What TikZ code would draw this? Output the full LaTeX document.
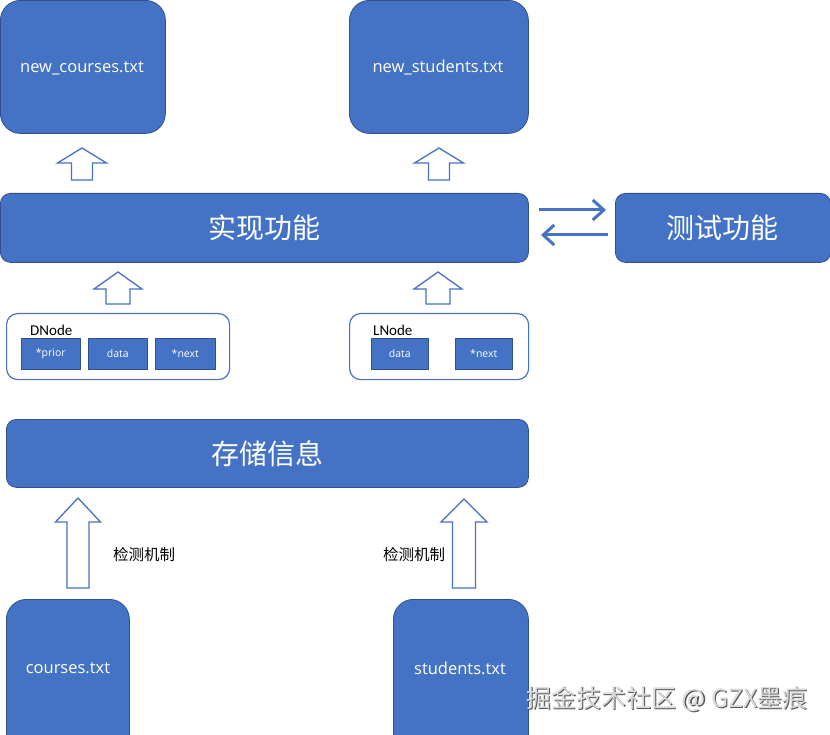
\documentclass[tikz,border=0pt]{standalone}
\usepackage{fontspec}
\setmainfont{Carlito}
\newfontfamily\cjk{Noto Sans CJK SC}
\newfontfamily\uifont{Open Sans}
\usetikzlibrary{arrows.meta}
\definecolor{boxblue}{HTML}{4472C4}
\definecolor{boxedge}{HTML}{2F528F}
\definecolor{wmgray}{HTML}{D9D9D9}
\definecolor{wmshadow}{HTML}{555555}
\newcommand\hollowarrow[6]{%
  \draw[hollow] (#1,#2) -- ({#1+#5},#3) -- ({#1+#6},#3) -- ({#1+#6},#4)
    -- ({#1-#6},#4) -- ({#1-#6},#3) -- ({#1-#5},#3) -- cycle;}
\begin{document}
\begin{tikzpicture}[x=1pt,y=-1pt,
  bluebox/.style={draw=boxedge,line width=0.8pt,fill=boxblue,text=white,
    rounded corners=#1,inner sep=0pt,anchor=north west},
  filetext/.style={font=\uifont\fontsize{16.5pt}{18pt}\selectfont},
  bigtext/.style={font=\cjk\fontsize{28pt}{32pt}\selectfont},
  container/.style={draw=boxblue,line width=1.2pt,fill=white,rounded corners=11pt,
    inner sep=0pt,anchor=north west},
  cell/.style={draw=boxedge,line width=0.6pt,fill=boxblue,text=white,inner sep=0pt,
    anchor=north west,minimum height=31pt,font=\uifont\fontsize{10.5pt}{13pt}\selectfont},
  nodelabel/.style={anchor=west,inner sep=0pt,font=\fontsize{15pt}{17pt}\selectfont},
  hollow/.style={draw=boxblue,line width=1.3pt,fill=white,line join=miter},
  flow/.style={draw=boxblue,line width=3pt,-{Straight Barb[length=11pt,width=20pt]}},
  cjklabel/.style={inner sep=0pt,font=\cjk\fontsize{15.5pt}{17pt}\selectfont},
  wmtext/.style={font=\cjk\fontsize{25pt}{27pt}\selectfont},
]
\useasboundingbox (0,0) rectangle (830,735);

% top output files
\node[bluebox=20pt,minimum width=165pt,minimum height=133pt] (nc) at (0,0) {};
\node[filetext,text=white] (nct) at (82,68) {new\_courses.txt};
\node[bluebox=20pt,minimum width=179pt,minimum height=133pt] (ns) at (349,0) {};
\node[filetext,text=white] (nst) at (438,68) {new\_students.txt};

\hollowarrow{82}{148}{163}{180}{24.5}{10.5}
\hollowarrow{439}{148}{163}{180}{24.5}{10.5}

% main function box and test box
\node[bluebox=10pt,minimum width=528pt,minimum height=69pt,bigtext] (impl) at (0,193) {实现功能};
\node[bluebox=10pt,minimum width=215pt,minimum height=69pt,bigtext] (test) at (615,193) {测试功能};

\coordinate (a1s) at (539,210);
\coordinate (a1e) at (606,210);
\coordinate (a2s) at (608,235);
\coordinate (a2e) at (541,235);
\draw[flow] (a1s) -- (a1e);
\draw[flow] (a2s) -- (a2e);

\hollowarrow{118}{272}{289}{304}{24}{12}
\hollowarrow{438}{272}{289}{304}{24}{12}

% DNode
\node[container,minimum width=223pt,minimum height=66pt] (dn) at (6,313) {};
\node[nodelabel] (dnl) at (30,330) {DNode};
\node[cell,minimum width=59pt] (prior) at (21,338) {*prior};
\node[cell,minimum width=59pt] (ddata) at (88,338) {data};
\node[cell,minimum width=60pt] (dnext) at (155,338) {*next};

% LNode
\node[container,minimum width=179pt,minimum height=66pt] (ln) at (349,313) {};
\node[nodelabel] (lnl) at (373,330) {LNode};
\node[cell,minimum width=57pt] (ldata) at (371,338) {data};
\node[cell,minimum width=57pt] (lnext) at (455,338) {*next};

% storage box
\node[bluebox=10pt,minimum width=522pt,minimum height=68pt,bigtext] (store) at (6,419) {存储信息};

\hollowarrow{78}{498}{522}{588}{22.5}{11}
\hollowarrow{464}{499}{522}{588}{23}{11.5}

\node[cjklabel,anchor=west] (chk1) at (113,555) {检测机制};
\node[cjklabel,anchor=west] (chk2) at (383,555) {检测机制};

% input files
\node[bluebox=20pt,minimum width=123pt,minimum height=160pt] (cf) at (6,599) {};
\node[filetext,text=white] (cft) at (68,668) {courses.txt};
\node[bluebox=20pt,minimum width=135pt,minimum height=160pt] (sf) at (393,599) {};
\node[filetext,text=white] (sft) at (460,668) {students.txt};

% watermark
\node[wmtext,text=wmshadow] (wms) at (668.2,700.2) {掘金技术社区 @ GZX墨痕};
\node[wmtext,text=wmgray] (wm) at (667,699) {掘金技术社区 @ GZX墨痕};
\end{tikzpicture}
\end{document}
